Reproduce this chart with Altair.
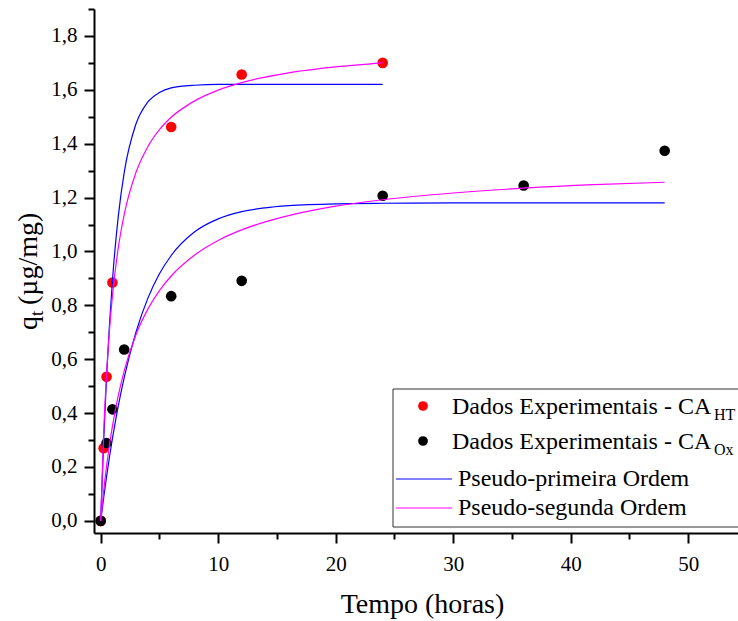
import altair as alt
import pandas as pd

# ---------------- data ----------------
ht_time = [0, 0.25, 0.5, 1, 6, 12, 24]
ht_q = [0.0, 0.27, 0.535, 0.885, 1.462, 1.657, 1.70]

ox_time = [0, 0.5, 1, 2, 6, 12, 24, 36, 48]
ox_q = [0.0, 0.289, 0.414, 0.636, 0.834, 0.891, 1.207, 1.245, 1.374]

fit_time_ht = [0, 0.25, 0.5, 0.75, 1, 1.5, 2, 3, 4, 5, 6, 8, 10, 12, 16, 20, 24]
pfo_ht = [0, 0.294, 0.534, 0.731, 0.892, 1.132, 1.293, 1.473, 1.554, 1.590, 1.607,
          1.617, 1.620, 1.620, 1.620, 1.620, 1.620]
pso_ht = [0, 0.322, 0.546, 0.710, 0.835, 1.015, 1.137, 1.293, 1.388, 1.452, 1.498,
          1.559, 1.599, 1.627, 1.663, 1.685, 1.700]

fit_time_ox = [0, 0.25, 0.5, 0.75, 1, 1.5, 2, 3, 4, 5, 6, 8, 10, 12, 14, 16, 20, 24,
               30, 36, 42, 48]
pfo_ox = [0, 0.085, 0.164, 0.238, 0.306, 0.428, 0.532, 0.700, 0.825, 0.917, 0.985,
          1.073, 1.121, 1.148, 1.162, 1.170, 1.177, 1.179, 1.180, 1.180, 1.180, 1.180]
pso_ox = [0, 0.110, 0.203, 0.283, 0.352, 0.466, 0.557, 0.691, 0.785, 0.855, 0.909,
          0.987, 1.041, 1.080, 1.110, 1.133, 1.168, 1.192, 1.217, 1.235, 1.248, 1.257]

x_ticks = [0, 5, 10, 15, 20, 25, 30, 35, 40, 45, 50]
y_ticks = [0, 0.1, 0.2, 0.3, 0.4, 0.5, 0.6, 0.7, 0.8, 0.9, 1.0, 1.1, 1.2, 1.3,
           1.4, 1.5, 1.6, 1.7, 1.8, 1.9]

legend_main = ["Dados Experimentais - CA", "Dados Experimentais - CA",
               "Pseudo-primeira Ordem", "Pseudo-segunda Ordem"]
legend_sub = ["HT", "Ox"]
x_title = "Tempo (horas)"
y_title_parts = ["q", "t", "(µg/mg)"]

# ---------------- tables ----------------
df_ht = pd.DataFrame({"t": ht_time, "q": ht_q})
df_ox = pd.DataFrame({"t": ox_time, "q": ox_q})
df_pfo = pd.concat([
    pd.DataFrame({"t": fit_time_ht, "q": pfo_ht, "s": "ht"}),
    pd.DataFrame({"t": fit_time_ox, "q": pfo_ox, "s": "ox"}),
])
df_pso = pd.concat([
    pd.DataFrame({"t": fit_time_ht, "q": pso_ht, "s": "ht"}),
    pd.DataFrame({"t": fit_time_ox, "q": pso_ox, "s": "ox"}),
])

FONT = "Liberation Serif"

x_axis = alt.Axis(
    values=x_ticks,
    labelExpr="datum.value % 10 == 0 ? datum.label : ''",
    tickSize={"condition": {"test": "datum.value % 10 == 0", "value": 10}, "value": 6},
    labelPadding=10,
    labelOverlap=False,
    labelFlush=False,
    title=x_title,
    titleFont=FONT,
    titleFontSize=28,
    titleFontWeight="normal",
    titleColor="black",
    titleX=328,
    titleY=79,
    titleAlign="center",
    titleBaseline="alphabetic",
)
y_axis = alt.Axis(
    values=y_ticks,
    labelExpr="round(datum.value*10) % 2 == 0 ? replace(format(datum.value, '.1f'), '.', ',') : ''",
    tickSize={"condition": {"test": "round(datum.value*10) % 2 == 0", "value": 10}, "value": 6},
    labelPadding=7,
    labelOverlap=False,
    labelFlush=False,
    title=None,
)

x_enc = alt.X("t:Q", scale=alt.Scale(domain=[-0.57, 54.24], nice=False, zero=False), axis=x_axis)
y_enc = alt.Y("q:Q", scale=alt.Scale(domain=[-0.045, 1.9], nice=False, zero=False), axis=y_axis)

pts_ht = alt.Chart(df_ht).mark_circle(size=113, opacity=1, color="#FF0000").encode(x=x_enc, y=y_enc)
pts_ox = alt.Chart(df_ox).mark_circle(size=113, opacity=1, color="black").encode(x=x_enc, y=y_enc)
line_pfo = alt.Chart(df_pfo).mark_line(color="#0000FF", strokeWidth=1.2, interpolate="monotone").encode(
    x=x_enc, y=y_enc, detail="s:N")
line_pso = alt.Chart(df_pso).mark_line(color="#FF00FF", strokeWidth=1.2, interpolate="monotone").encode(
    x=x_enc, y=y_enc, detail="s:N")

one = alt.Data(values=[{"k": 0}])


def txt(text, x, y, size, angle=0):
    mk = dict(text=text, font=FONT, fontSize=size, align="left", baseline="alphabetic", color="black")
    if angle:
        mk["angle"] = angle
    return alt.Chart(one).mark_text(**mk).encode(x=alt.value(x), y=alt.value(y))


# y-axis title with subscript
ytitle = [
    txt(y_title_parts[0], -57, 321, 28, 270),
    txt(y_title_parts[1], -51, 307, 19, 270),
    txt(y_title_parts[2], -57, 296, 28, 270),
]

# legend
leg_box = alt.Chart(one).mark_rect(fill="white", stroke="#333333", strokeWidth=1).encode(
    x=alt.value(299), x2=alt.value(700), y=alt.value(380), y2=alt.value(518))
leg_red = alt.Chart(one).mark_circle(size=95, opacity=1, color="#FF0000").encode(
    x=alt.value(329), y=alt.value(397))
leg_blk = alt.Chart(one).mark_circle(size=95, opacity=1, color="black").encode(
    x=alt.value(329), y=alt.value(432))
leg_blue = alt.Chart(one).mark_rule(color="#0000FF", strokeWidth=1.2).encode(
    x=alt.value(302), x2=alt.value(358), y=alt.value(470))
leg_mag = alt.Chart(one).mark_rule(color="#FF00FF", strokeWidth=1.2).encode(
    x=alt.value(302), x2=alt.value(358), y=alt.value(499))
leg_txt = [
    txt(legend_main[0], 358, 405, 24),
    txt(legend_sub[0], 620, 411, 16),
    txt(legend_main[1], 358, 440, 24),
    txt(legend_sub[1], 620, 446, 16),
    txt(legend_main[2], 364, 477, 24),
    txt(legend_main[3], 364, 506, 24),
]

chart = alt.layer(
    pts_ht, pts_ox, line_pfo, line_pso, *ytitle,
    leg_box, leg_red, leg_blk, leg_blue, leg_mag, *leg_txt,
).properties(
    width=644,
    height=524,
    autosize=alt.AutoSizeParams(type="none"),
    padding={"left": 94, "top": 9, "right": 0, "bottom": 88},
    background="white",
).configure_view(stroke=None).configure_axis(
    grid=False,
    domainColor="black",
    domainWidth=2,
    tickColor="black",
    tickWidth=2,
    labelFont=FONT,
    labelFontSize=21,
    labelColor="black",
)

chart.save("out.html", embed_options={"renderer": "svg", "actions": False})
